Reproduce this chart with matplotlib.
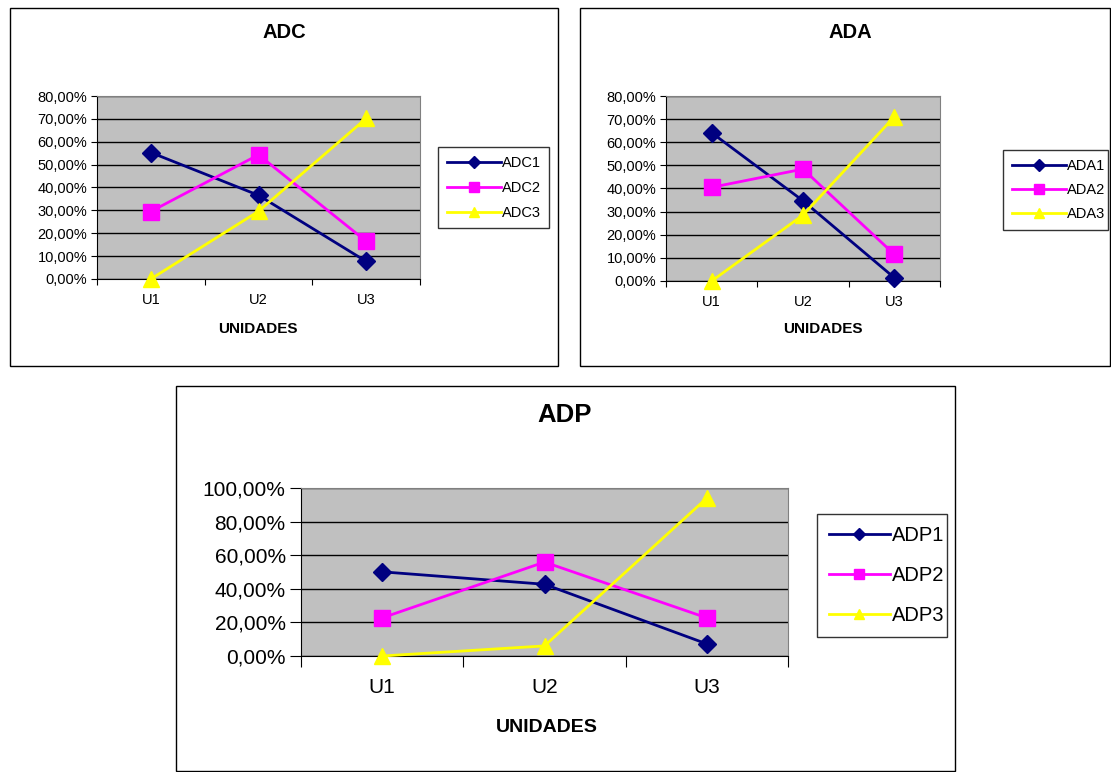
import matplotlib
matplotlib.use('Agg')
import matplotlib.pyplot as plt
from matplotlib.patches import Rectangle
from matplotlib.ticker import FuncFormatter
import numpy as np

plt.rcParams['font.family'] = ['Liberation Sans', 'DejaVu Sans']

# --- DATA ---
unidades = ["U1", "U2", "U3"]
adc1 = [55.3, 36.6, 7.7]
adc2 = [29.5, 54.3, 16.5]
adc3 = [0.0, 29.6, 70.2]
ada1 = [64.1, 34.7, 1.4]
ada2 = [40.5, 48.4, 11.5]
ada3 = [0.0, 28.5, 71.0]
adp1 = [50.1, 42.7, 7.2]
adp2 = [22.7, 55.9, 22.7]
adp3 = [0.0, 6.0, 94.0]

W, H = 1111, 772
fig = plt.figure(figsize=(W / 100, H / 100), dpi=100)


def px_rect(x0, y0, x1, y1):
    # pixel box -> figure fraction [left, bottom, width, height]
    return [x0 / W, 1 - y1 / H, (x1 - x0) / W, (y1 - y0) / H]


def panel_border(x0, y0, x1, y1):
    l, b, w, h = px_rect(x0, y0, x1, y1)
    fig.patches.append(Rectangle((l, b), w, h, transform=fig.transFigure,
                                 fill=False, edgecolor="black", linewidth=1.0))


def pct(v, pos):
    return f"{v:.2f}%".replace(".", ",")


def chart(box, title, title_xy, xlabel_xy, series, names, ymax, ystep, legend_box,
          tick_fs, tick_len, xpad, title_fs, label_fs, leg_fs, leg_space, hlen, ms):
    ax = fig.add_axes(px_rect(*box))
    ax.set_facecolor("#C0C0C0")
    x = np.arange(len(unidades)) + 0.5
    styles = [("#000080", "D"), ("#FF00FF", "s"), ("#FFFF00", "^")]
    handles = []
    for vals, (col, mk), nm in zip(series, styles, names):
        msz = ms * (0.85 if mk == "D" else 1.0)
        h, = ax.plot(x, vals, color=col, marker=mk, markersize=msz, linewidth=2,
                     label=nm, clip_on=False, zorder=3)
        handles.append(h)
    ax.set_xlim(0, 3)
    ax.set_ylim(0, ymax)
    ax.set_yticks(np.arange(0, ymax + 0.01, ystep))
    ax.yaxis.set_major_formatter(FuncFormatter(pct))
    ax.set_xticks([0, 1, 2, 3])
    ax.set_xticklabels([])
    ax.set_xticks(x, minor=True)
    ax.set_xticklabels(unidades, minor=True)
    ax.tick_params(axis="x", which="minor", length=0, labelsize=tick_fs, pad=xpad)
    ax.tick_params(axis="x", which="major", length=tick_len, direction="out")
    ax.tick_params(axis="y", length=tick_len, direction="out", labelsize=tick_fs, pad=3)
    ax.grid(axis="y", color="black", linewidth=1)
    ax.set_axisbelow(True)
    for s in ("top", "right"):
        ax.spines[s].set_color("#808080")
    for s in ("left", "bottom"):
        ax.spines[s].set_color("black")

    fig.text(title_xy[0] / W, 1 - title_xy[1] / H, title, fontsize=title_fs,
             fontweight="bold", ha="center", va="center")
    fig.text(xlabel_xy[0] / W, 1 - xlabel_xy[1] / H, "UNIDADES", fontsize=label_fs,
             fontweight="bold", ha="center", va="center")

    lx0, ly0, lx1, ly1 = legend_box
    leg = ax.legend(handles=handles, loc="upper left",
                    bbox_to_anchor=px_rect(lx0, ly0, lx1, ly1),
                    bbox_transform=fig.transFigure, mode="expand",
                    fontsize=leg_fs, frameon=True, fancybox=False,
                    edgecolor="black", borderaxespad=0, handlelength=hlen,
                    labelspacing=leg_space, handletextpad=0.1, markerscale=0.7,
                    borderpad=0.6)
    leg.get_frame().set_linewidth(1.0)
    return ax


panel_border(10, 8, 558, 366)
panel_border(580, 8, 1110, 366)
panel_border(176, 386, 955, 771)

chart((97, 96, 420, 279), "ADC", (284, 33), (258, 329), [adc1, adc2, adc3],
      ["ADC1", "ADC2", "ADC3"], 80, 10, (438, 147, 549, 230),
      10.5, 4, 10, 14.5, 11, 10.5, 0.75, 3.7, 11)
chart((666, 96, 940, 281), "ADA", (850, 33), (823, 329), [ada1, ada2, ada3],
      ["ADA1", "ADA2", "ADA3"], 80, 10, (1003, 150, 1108, 227),
      10.5, 4, 10, 14.5, 11, 10.5, 0.7, 3.7, 11)
chart((301, 488, 788, 656), "ADP", (565, 415), (547, 728), [adp1, adp2, adp3],
      ["ADP1", "ADP2", "ADP3"], 100, 20, (817, 514, 947, 630),
      15, 8, 16, 18.5, 14, 14.5, 1.05, 3.0, 11)

fig.savefig("out.png", dpi=100)
